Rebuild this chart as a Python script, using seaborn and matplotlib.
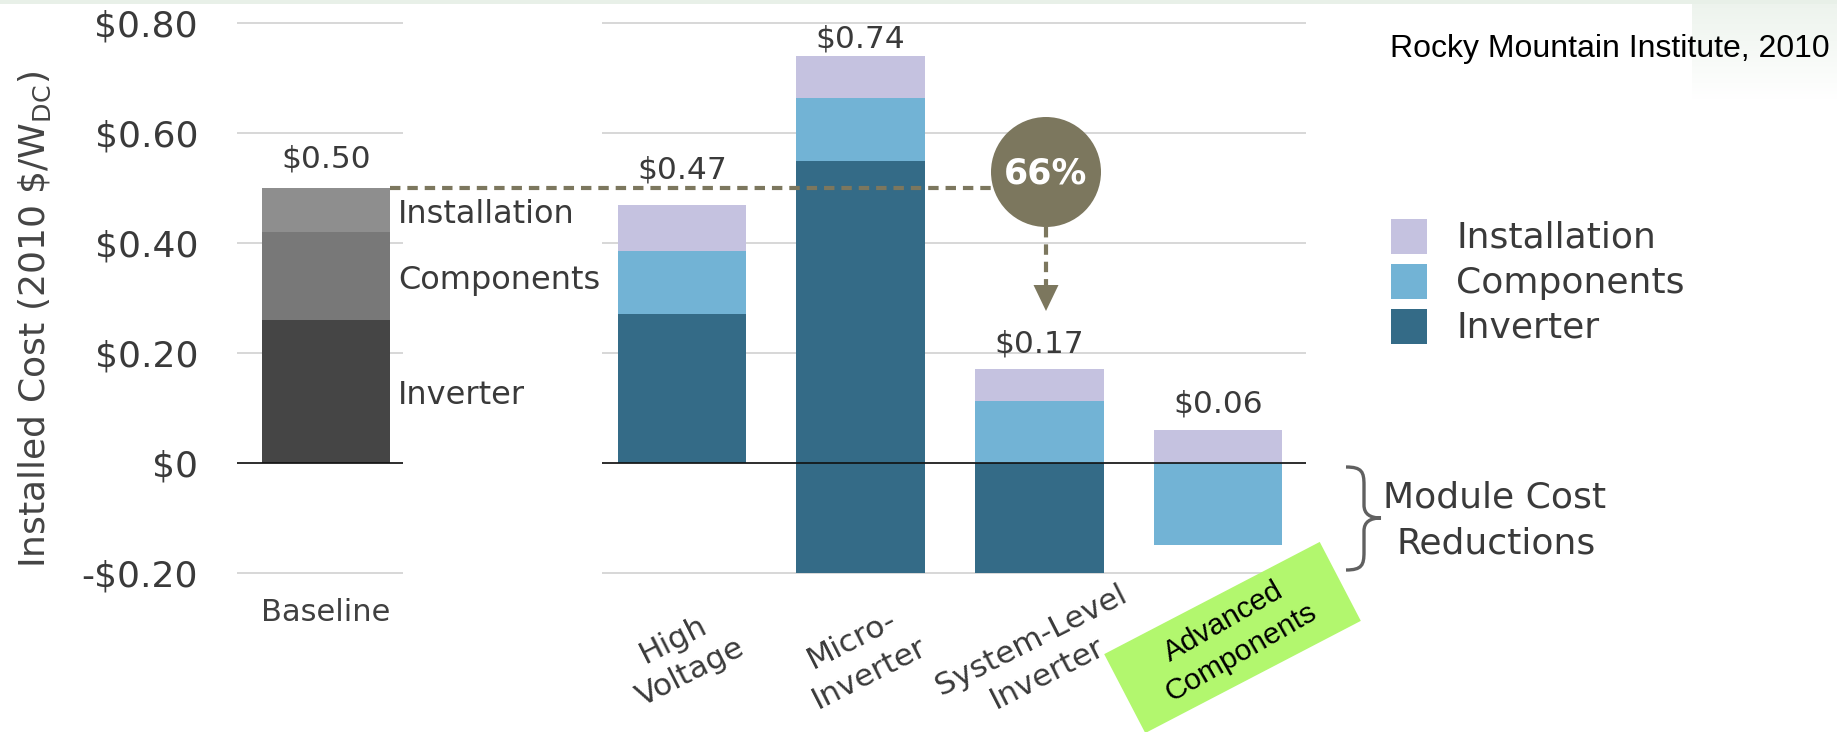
import numpy as np
import matplotlib
matplotlib.use("Agg")
import matplotlib.pyplot as plt
import seaborn as sns
from matplotlib.patches import Rectangle, Circle, Polygon, PathPatch
from matplotlib.path import Path
from matplotlib.transforms import blended_transform_factory

# ---------------- data (installed cost, 2010 $/W_DC) ----------------
baseline_label = ["Baseline"]
baseline_inverter = [0.26]
baseline_components = [0.16]
baseline_installation = [0.08]

categories = ["High\nVoltage", "Micro-\nInverter", "System-Level\nInverter", "Advanced\nComponents"]
inverter = [0.27, 0.55, 0.00, 0.00]
components = [0.115, 0.115, 0.113, 0.00]
installation = [0.085, 0.075, 0.057, 0.06]
# module cost reductions sit below zero, in the colour of the part they belong to
inverter_below = [0.00, -0.20, -0.20, 0.00]
components_below = [0.00, 0.00, 0.00, -0.15]

segment_names = ["Installation", "Components", "Inverter"]
note_lines = ["Module Cost", "Reductions"]
y_ticks = [-0.2, 0.0, 0.2, 0.4, 0.6, 0.8]
y_tick_labels = [r"-\$0.20", r"\$0", r"\$0.20", r"\$0.40", r"\$0.60", r"\$0.80"]
y_title = r"Installed Cost (2010 \$/W$_\mathregular{DC}$)"
source_note = "Rocky Mountain Institute, 2010"

# ---------------- style / layout ----------------
W, H, DPI = 1837, 732, 100
GRAYS = ["#454545", "#787878", "#8e8e8e"]      # inverter, components, installation
COLORS = ["#346b87", "#72b3d5", "#c5c2e0"]     # inverter, components, installation
TEXT = "#3a3a3a"
OLIVE = "#7c775e"
GRID = "#cdcdcd"
BAR_W = 0.72
YLIM = (-0.21, 0.81)
AX_TOP, AX_BOT = 17.9, 578.0                   # pixel rows of the y-limits
UNIT = 178.7                                   # pixels per category step

sns.set_style("white")
plt.rcParams["font.family"] = ["DejaVu Sans"]
plt.rcParams["lines.scale_dashes"] = False


def axes_rect(left, right):
    return [left / W, 1 - AX_BOT / H, (right - left) / W, (AX_BOT - AX_TOP) / H]


def draw_stack(ax, cats, layers, colors):
    """Stacked bars: cumulative heights drawn back to front."""
    tops = np.cumsum(np.array(layers, dtype=float), axis=0)
    for level in reversed(range(len(layers))):
        sns.barplot(x=cats, y=tops[level], color=colors[level], width=BAR_W,
                    saturation=1, linewidth=0, errorbar=None, ax=ax)
    return tops


def style_axes(ax):
    ax.set_ylim(*YLIM)
    ax.set_yticks(y_ticks)
    ax.grid(axis="y", color=GRID, linewidth=1.1)
    ax.grid(axis="x", visible=False)
    ax.set_axisbelow(True)
    ax.axhline(0, color="#111111", linewidth=1.2, zorder=5)
    for s in ax.spines.values():
        s.set_visible(False)
    ax.tick_params(length=0)
    ax.set_xlabel("")
    ax.set_ylabel("")


fig = plt.figure(figsize=(W / DPI, H / DPI), dpi=DPI, facecolor="white")

# ---------------- baseline panel ----------------
ax1 = fig.add_axes(axes_rect(237, 403))
base_layers = [baseline_inverter, baseline_components, baseline_installation]
base_tops = draw_stack(ax1, baseline_label, base_layers, GRAYS)
style_axes(ax1)
ax1.set_xlim((237 - 326) / UNIT, (403 - 326) / UNIT)
ax1.set_xticks([0])
ax1.set_xticklabels([])
ax1.set_yticklabels(y_tick_labels, fontsize=26, color=TEXT)
ax1.tick_params(axis="y", pad=28)
ax1.set_ylabel(y_title, fontsize=26, color="#444444")
ax1.yaxis.set_label_coords(-1.11, 0.462)

base_total = base_tops[-1][0]
ax1.annotate(f"\\${base_total:.2f}", (0, base_total), xytext=(0, 29 * 72 / DPI),
             textcoords="offset points", ha="center", va="center",
             fontsize=22.5, color=TEXT)
# segment names beside the baseline bar
bottoms = np.vstack([np.zeros(1), base_tops[:-1]])
for name, lo, hi in zip(segment_names[::-1], bottoms, base_tops):
    ax1.text(BAR_W / 2 + 8 / UNIT, (lo[0] + hi[0]) / 2 - 0.008, name, ha="left",
             va="center", fontsize=23, color=TEXT)
xa1 = blended_transform_factory(ax1.transData, ax1.transAxes)
ax1.text(0, -0.062, baseline_label[0], transform=xa1, ha="center", va="center",
         fontsize=22, color="#404040")

# ---------------- scenario panel ----------------
ax2 = fig.add_axes(axes_rect(602, 1306))
tops = draw_stack(ax2, categories, [inverter, components, installation], COLORS)
sns.barplot(x=categories, y=inverter_below, color=COLORS[0], width=BAR_W,
            saturation=1, linewidth=0, errorbar=None, ax=ax2)
sns.barplot(x=categories, y=components_below, color=COLORS[1], width=BAR_W,
            saturation=1, linewidth=0, errorbar=None, ax=ax2)
style_axes(ax2)
ax2.set_xlim((602 - 682) / UNIT, (1306 - 682) / UNIT)
ax2.set_xticks(range(len(categories)))
ax2.set_xticklabels([])
ax2.tick_params(labelleft=False)

totals = tops[-1]
label_lift_px = [35, 17, 25, 26]
for i, (t, lift) in enumerate(zip(totals, label_lift_px)):
    ax2.annotate(f"\\${t:.2f}", (i, t), xytext=(0, lift * 72 / DPI),
                 textcoords="offset points", ha="center", va="center",
                 fontsize=22.5, color=TEXT)

xa2 = blended_transform_factory(ax2.transData, ax2.transAxes)
for i, cat in enumerate(categories[:-1]):
    ax2.text(i, -0.14, cat, transform=xa2, rotation=27, ha="center", va="center",
             fontsize=22.5, color=TEXT, linespacing=1.35)

# ---------------- overlay (pixel coordinates, y downwards) ----------------
ov = fig.add_axes([0, 0, 1, 1])
ov.set_xlim(0, W)
ov.set_ylim(H, 0)
ov.axis("off")

# page background touches
ov.add_patch(Rectangle((0, 0), W, 4, color="#e8f0e8", lw=0))
grad = np.linspace(0, 1, 64)[:, None]
ov.imshow(np.dstack([0.93 + 0.07 * grad, 0.955 + 0.045 * grad, 0.93 + 0.07 * grad]),
          extent=(1692, W, 100, 3), aspect="auto", zorder=0.5)
ov.set_xlim(0, W)
ov.set_ylim(H, 0)

# dashed reference line at the baseline total
circ_x, circ_y, circ_r = 1046, 172, 55
x_start = ax1.transData.transform((BAR_W / 2, 0))[0]
line_tr = blended_transform_factory(ov.transData, ax2.transData)
ov.plot([x_start, circ_x - circ_r], [base_total, base_total], transform=line_tr,
        color=OLIVE, lw=3.0, linestyle=(0, (7.5, 5.0)), zorder=3)
ov.plot([circ_x, circ_x], [circ_y + circ_r, 287], color=OLIVE, lw=3.0,
        linestyle=(0, (7.5, 5.0)), zorder=3)
ov.add_patch(Polygon([[circ_x - 12.5, 285], [circ_x + 12.5, 285], [circ_x, 311]],
                     closed=True, color=OLIVE, lw=0, zorder=3))
ov.add_patch(Circle((circ_x, circ_y), circ_r, color=OLIVE, lw=0, zorder=4))
reduction = round((base_total - totals[2]) / base_total * 100)
ov.text(circ_x, circ_y + 1, f"{reduction}%", ha="center", va="center", color="white",
        fontsize=25, fontweight="bold", zorder=5)

# legend
for k, (name, col) in enumerate(zip(segment_names, COLORS[::-1])):
    top = 219 + 45 * k
    ov.add_patch(Rectangle((1391, top), 36, 35, color=col, lw=0))
    ov.text(1456, top + 19, name, ha="left", va="center", fontsize=26, color=TEXT)

# brace for module cost reductions
brace = Path([(1346, 467), (1362, 467), (1364, 472), (1364, 485),
              (1364, 505),
              (1364, 514), (1370, 518), (1381, 518),
              (1370, 518), (1364, 522), (1364, 531),
              (1364, 552),
              (1364, 565), (1362, 570), (1346, 570)],
             [Path.MOVETO, Path.CURVE4, Path.CURVE4, Path.CURVE4,
              Path.LINETO,
              Path.CURVE4, Path.CURVE4, Path.CURVE4,
              Path.CURVE4, Path.CURVE4, Path.CURVE4,
              Path.LINETO,
              Path.CURVE4, Path.CURVE4, Path.CURVE4])
ov.add_patch(PathPatch(brace, facecolor="none", edgecolor="#606060", lw=2.4))
ov.text(1495, 498, note_lines[0], ha="center", va="center", fontsize=26, color=TEXT)
ov.text(1496, 543, note_lines[1], ha="center", va="center", fontsize=26, color=TEXT)

# highlighted label for the last scenario
cx, cy, bw, bh, ang = 1232.5, 637.5, 243, 89, np.deg2rad(27.5)
u = np.array([np.cos(ang), -np.sin(ang)])
v = np.array([np.sin(ang), np.cos(ang)])
c = np.array([cx, cy])
corners = [c - bw / 2 * u - bh / 2 * v, c + bw / 2 * u - bh / 2 * v,
           c + bw / 2 * u + bh / 2 * v, c - bw / 2 * u + bh / 2 * v]
ov.add_patch(Polygon(corners, closed=True, color="#b2f76e", lw=0, zorder=6))
t_ang = np.deg2rad(30)
tv = np.array([np.sin(t_ang), np.cos(t_ang)])
for j, line in enumerate(categories[-1].split("\n")):
    p = c + (j - 0.5) * 35.4 * tv
    ov.text(p[0], p[1], line, rotation=30, ha="center", va="center", fontsize=21.5,
            family=["Liberation Sans"], color="black", zorder=7)

ov.text(1830, 49, source_note, ha="right", va="center", fontsize=23,
        family=["Liberation Sans"], color="black")

fig.savefig("out.png", dpi=DPI, facecolor="white")
